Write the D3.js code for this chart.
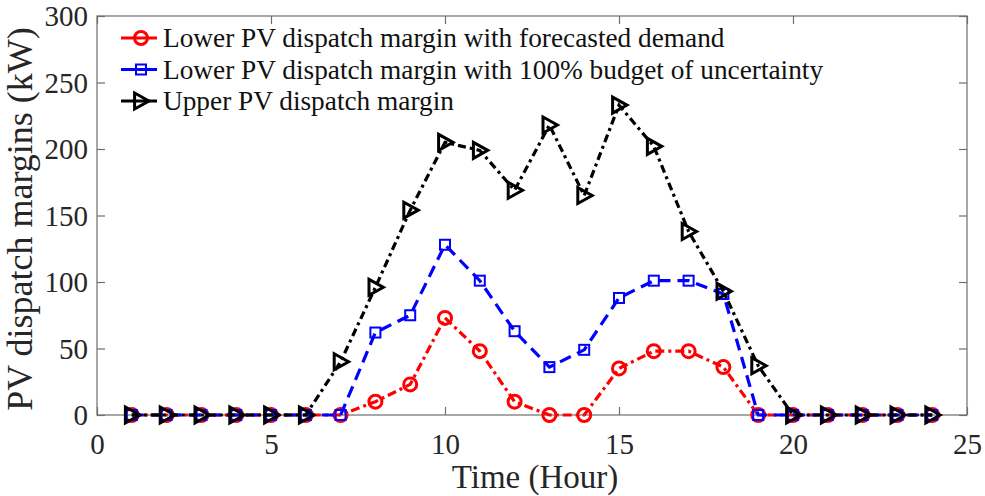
<!DOCTYPE html>
<meta charset="utf-8">
<style>
  body { margin: 0; background: #fff; }
  text { font-family: "Liberation Serif", "Times New Roman", serif; }
</style>
<body>
<div class="chart"></div>
<script src="https://d3js.org/d3.v7.min.js"></script>
<script>
    // hours 1..24
    const hours = d3.range(1, 25);
    const lowerForecast = [0, 0, 0, 0, 0, 0, 0, 10, 23, 73, 48, 10, 0, 0, 35, 48, 48, 36, 0, 0, 0, 0, 0, 0];
    const lowerBudget   = [0, 0, 0, 0, 0, 0, 0, 62, 75, 128, 101, 63, 36, 49, 88, 101, 101, 91, 0, 0, 0, 0, 0, 0];
    const upperMargin   = [0, 0, 0, 0, 0, 0, 40, 96, 154, 205, 199, 169, 218, 165, 233, 202, 138, 93, 37, 0, 0, 0, 0, 0];

    const xTicks = [0, 5, 10, 15, 20, 25];
    const yTicks = [0, 50, 100, 150, 200, 250, 300];
    const seriesNames = [
        "Lower PV dispatch margin with forecasted demand",
        "Lower PV dispatch margin with 100% budget of uncertainty",
        "Upper PV dispatch margin"
    ];

    const width = 985, height = 496;
    const margin = {top: 16, right: 18, bottom: 81, left: 97};
    const w = width - margin.left - margin.right;
    const h = height - margin.top - margin.bottom;

    const svg = d3.select(".chart").append("svg")
        .attr("width", width)
        .attr("height", height);

    const g = svg.append("g")
        .attr("transform", `translate(${margin.left},${margin.top})`);

    const x = d3.scaleLinear().domain([0, 25]).range([0, w]);
    const y = d3.scaleLinear().domain([0, 300]).range([h, 0]);

    const axisColor = "#6e6e6e";
    const tickLen = 8;

    // box
    g.append("rect")
        .attr("width", w).attr("height", h)
        .attr("fill", "none")
        .attr("stroke", axisColor)
        .attr("stroke-width", 1.2);

    // axes, ticks pointing inward like matlab
    const xAxis = g.append("g")
        .attr("transform", `translate(0,${h})`)
        .call(d3.axisBottom(x).tickValues(xTicks).tickSize(-tickLen).tickPadding(18));
    const xTop = g.append("g")
        .call(d3.axisTop(x).tickValues(xTicks).tickSize(-tickLen).tickFormat(""));
    const yAxis = g.append("g")
        .call(d3.axisLeft(y).tickValues(yTicks).tickSize(-tickLen).tickPadding(9));
    const yRight = g.append("g")
        .attr("transform", `translate(${w},0)`)
        .call(d3.axisRight(y).tickValues(yTicks).tickSize(-tickLen).tickFormat(""));

    [xAxis, xTop, yAxis, yRight].forEach(a => {
        a.select(".domain").remove();
        a.selectAll(".tick line").attr("stroke", axisColor).attr("stroke-width", 1.2);
        a.selectAll(".tick text")
            .attr("fill", "#262626")
            .style("font-family", "'Liberation Serif', serif")
            .style("font-size", "29px");
    });
    yAxis.selectAll(".tick text").attr("dy", "0.34em");

    // axis labels
    svg.append("text")
        .attr("x", margin.left + w / 2 + 3)
        .attr("y", 488)
        .attr("text-anchor", "middle")
        .attr("fill", "#262626")
        .style("font-size", "33px")
        .text("Time (Hour)");

    svg.append("text")
        .attr("transform", "translate(32,219) rotate(-90)")
        .attr("text-anchor", "middle")
        .attr("fill", "#262626")
        .style("font-size", "36px")
        .text("PV dispatch margins (kW)");

    const series = [
        {name: seriesNames[0], values: lowerForecast, color: "#ff0000", dash: "9,4,3,4", marker: "circle"},
        {name: seriesNames[1], values: lowerBudget, color: "#0000ff", dash: "12,7", marker: "square"},
        {name: seriesNames[2], values: upperMargin, color: "#000000", dash: "8,4,3,4", marker: "triangle"}
    ];

    const line = d3.line()
        .x((d, i) => x(hours[i]))
        .y(d => y(d));

    function drawMarker(sel, s, cx, cy) {
        if (s.marker === "circle") {
            sel.append("circle")
                .attr("cx", cx).attr("cy", cy).attr("r", 6.5)
                .attr("fill", "none").attr("stroke", s.color).attr("stroke-width", 3);
        } else if (s.marker === "square") {
            sel.append("rect")
                .attr("x", cx - 5).attr("y", cy - 5)
                .attr("width", 10).attr("height", 10)
                .attr("fill", "none").attr("stroke", s.color).attr("stroke-width", 2);
        } else {
            const r = 8;
            sel.append("path")
                .attr("d", `M${cx + r},${cy} L${cx - r * 0.8},${cy - r} L${cx - r * 0.8},${cy + r} Z`)
                .attr("fill", "none").attr("stroke", s.color).attr("stroke-width", 3)
                .attr("stroke-linejoin", "miter");
        }
    }

    series.forEach(s => {
        g.append("path")
            .datum(s.values)
            .attr("d", line)
            .attr("fill", "none")
            .attr("stroke", s.color)
            .attr("stroke-width", 3.2)
            .attr("stroke-dasharray", s.dash);
        const mg = g.append("g");
        s.values.forEach((v, i) => drawMarker(mg, s, x(hours[i]), y(v)));
    });

    // legend (no box)
    const legend = svg.append("g").attr("transform", "translate(121,38)");
    series.forEach((s, i) => {
        const row = legend.append("g").attr("transform", `translate(0,${i * 31.5})`);
        row.append("line")
            .attr("x1", 0).attr("x2", 36)
            .attr("stroke", s.color).attr("stroke-width", 3.2);
        drawMarker(row, s, 20, 0);
        row.append("text")
            .attr("x", 42)
            .attr("dy", "0.34em")
            .attr("fill", "#111")
            .style("font-size", "27.3px")
            .text(s.name);
    });
</script>
</body>
